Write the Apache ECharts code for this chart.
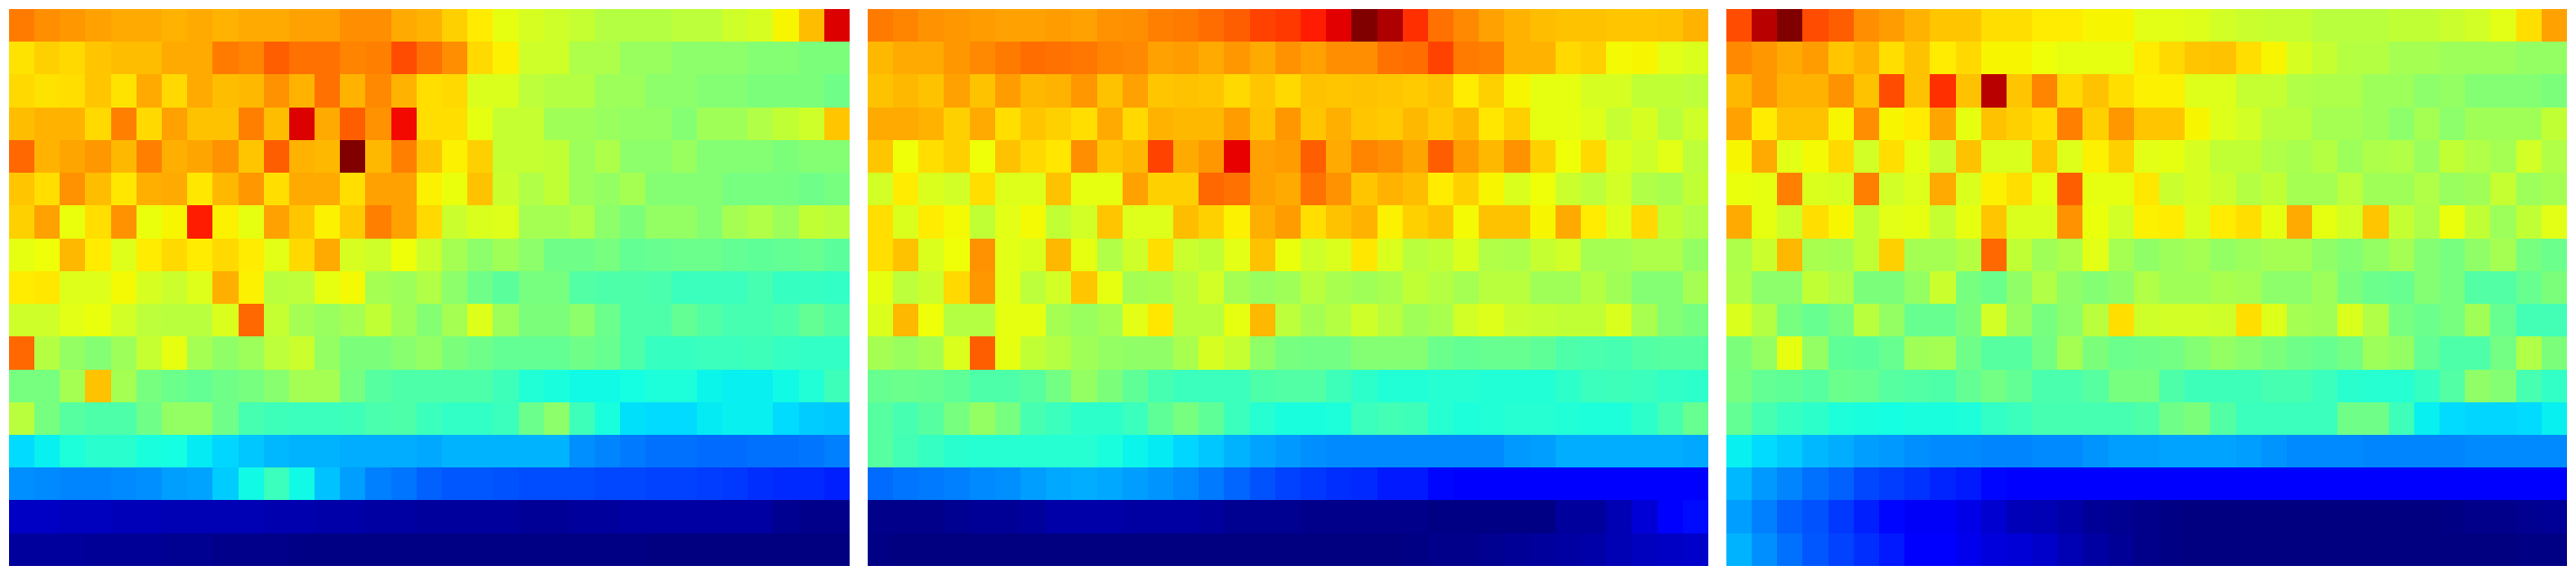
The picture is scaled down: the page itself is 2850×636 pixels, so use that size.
<!DOCTYPE html>
<html><head><meta charset="utf-8">
<style>html,body{margin:0;padding:0;background:#fff}#c{width:2850px;height:636px}</style>
<script src="https://cdn.jsdelivr.net/npm/echarts@6/dist/echarts.min.js"></script>
</head><body><div id="c"></div>
<script>
const columns = Array.from({length:33},(_,i)=>i);
const rows = Array.from({length:17},(_,i)=>i);
const panel1 = [
[78,76,75,74,73,73,72,73,72,73,73,74,74,76,76,73,72,69,66,63,61,60,59,57,57,57,58,58,60,61,65,71,92],
[67,69,68,70,71,71,73,73,78,77,81,79,79,77,77.5,83,79,76,68,65.5,60,60,56,56,53.5,53.5,52,52,52,51,51,50,50],
[68,67,67.5,70,67,73,68,73,71,71.5,75.5,72,79,72,76.5,72,67.5,68,61.5,61.5,58,57,57,54,54,52,52,51,51,50,50,50,48.5],
[71,72,72,68,77.5,68,74,70.5,70.5,77.5,71,92,73,81,75.5,90,67.5,67.5,63,59,59,54.5,54.5,53.5,53,53,51,54.5,54.5,56.5,58.5,60,70],
[80,72,73.5,75,71.5,77.5,72.5,73.5,75.5,70,81,72,71.5,100,71.5,77.5,70,65.5,69,59,59,58.5,54,56,52,52,53.5,51,51,51,50,51,51],
[70,67.5,75.5,71,66.5,72.5,73,66.5,71.5,75,67.5,73,73,67.5,74,74,65.5,63.5,70.5,59.5,56.5,58.5,54,53,55,51,51,51,49.5,49.5,49.5,48.5,49.5],
[69,74,63.5,67.5,75.5,63.5,65,88,65.5,63,74,70,65.5,69.5,77.5,74,68,59.5,61.5,62,55,55,56.5,52,50,53,53,51,55,56.5,54,58.5,57.5],
[63,64,71.5,66,62,66,68,66,68,66,62.5,68,73,61,60,64,59.5,55,52,54.5,52,48.5,48.5,49.5,47,47.5,48,48,47,46.5,47,47.5,46],
[66,66.5,62,62,64.5,61,59.5,62,72.5,65.5,57.5,58,63,64.5,55,54,56.5,52,48.5,46,49.5,49.5,45,44.5,44.5,44,42,42,42,43.5,41.5,41.5,41],
[60,60,62.5,63.5,60.5,58,57.5,57.5,61.5,80,59,55,53.5,55,58.5,54.5,51,55,62,54,50,50,52,48,44.5,44.5,47,45,43.5,43.5,44.5,47,45],
[80,57,53,51,54,59,63,55,52.5,54,58,59.5,53,50,50,51.5,53,50,48.5,47,47,47,48.5,47.5,44.5,41.5,41.5,42,42,42.5,41.5,41,41],
[49.5,49.5,55,70.5,55,49.5,48,47,48.5,49.5,51.5,55,55,49.5,45.5,44.5,44.5,44.5,44.5,42.5,39,38,37,37,37.5,38.5,38.5,36.5,36,36,37,39,42.5],
[57.5,49.5,45.5,44.5,44.5,48.5,53,53,48.5,43.5,42.5,42,42,42.5,44,44.5,42,41,41,42,48,52,42.5,38,34.5,34,34,35.5,36,36,34,32.5,32],
[34,36,38.5,40,40,38,37.5,35.5,33.5,32,30.5,30,30,29.5,29.5,29.5,29,30,30,30,30,30,26.5,25.5,24.5,23.5,23.5,23,23,23.5,23.5,24,25],
[26.5,26,25.5,25.5,26,26.5,28,28.5,32.5,37,42,37,31.5,28,25,24,22,21,21,20.5,20,20,20,19.5,19.5,19,19,18.5,18,17,16.5,16.5,15.5],
[6,6,5.5,5.5,5,5,4.5,4.5,4.5,4.5,4,4,3.5,3.5,3,3,2.5,2.5,2.5,2.5,2,2,2.5,2.5,3,3,3,3,3,3,1.5,1,1],
[2.5,2.5,2.5,2,2,2,1.5,1.5,1,1,1,0.5,0.5,0.5,0.5,0.5,0.5,0.5,0.5,0.5,0.5,0.5,0.5,0.5,0.5,0,0,0,0,0,0,0,0]
];
const panel2 = [
[78,77,75.5,75,74.5,74,74,74.5,74,75.5,76,77.5,78,79.5,81,84,85,88,91.5,100,96,86,79,76.5,74,72,71,70.5,70.5,70,70,70.5,72],
[71.5,73,73,75,76.5,78,79.5,79,78.5,77,76.5,74,74.5,73,75,73,75.5,74,76,76,79,79.5,84,78,77.5,72,72,68,69,64.5,65,62.5,61.5],
[70.5,71.5,70.5,74,70.5,74.5,71.5,72,75,70.5,74,70,70.5,70,68,70,68,70.5,70,70.5,70,69.5,70.5,66,69,65,63,63,61,61,58.5,58.5,58],
[73,73,72,69,73,67.5,70,69,67.5,73,68,72,71.5,71.5,74.5,70.5,75,70,72.5,70,69.5,71.5,69.5,71.5,66.5,69,63,63,62,59,61,57.5,60],
[70,64,67.5,69,64,70.5,68,66.5,76,70,71.5,84,73,75,91,74,74.5,81,73,77,76,73.5,81,74.5,71.5,75.5,69,64,68,61.5,60,62.5,58],
[60.5,66,61.5,60.5,67.5,62,62,70.5,63,63,74,69,69,80,79,74,73,79,75.5,70,72,71,66,69,65,61.5,64,59.5,58,60.5,56.5,55.5,58.5],
[67.5,61.5,66,64.5,58.5,62.5,64.5,58.5,60.5,70,62,62,71,69,65.5,72.5,74.5,67.5,70.5,72,65.5,69,70.5,64.5,70.5,70.5,65,73,66,62,68,58.5,56.5],
[67.5,70.5,61.5,64,75.5,62.5,61.5,71.5,63,56.5,60,67.5,59.5,58.5,62.5,70.5,63.5,60,61.5,66.5,61.5,57.5,58.5,61.5,56.5,56,59,60.5,55,55,56,56,53],
[63,58,59.5,68,75,62.5,58,60.5,70,63,55,55.5,57.5,60.5,55,53.5,54.5,57.5,55.5,54.5,55.5,58.5,57,55,57.5,57.5,54.5,54.5,57,54.5,51,51,55],
[61.5,71.5,64,57,57,63,63,55,53.5,55,62.5,66.5,57.5,57.5,63,71.5,58,55,57,60,57.5,54.5,55.5,60.5,62,59.5,59,58.5,58.5,61.5,55.5,51,49.5],
[55,53.5,55,61.5,81,63,58.5,57,54.5,53,52.5,52.5,55.5,61,59,52.5,49.5,49,49,51,51,51,48,47,47.5,47.5,46.5,44.5,44,43.5,45,45.5,45.5],
[47.5,48,47.5,46.5,44.5,44.5,45.5,49,53,50,46.5,43.5,42,42,42,44.5,45,45,42.5,40.5,39,39,39.5,39.5,39,39,39,40.5,42,42.5,42,41,40.5],
[45.5,43.5,45.5,49.5,53,49.5,43.5,42,40.5,40.5,42,46.5,49.5,46.5,42,39.5,38,38,38.5,42,43,42.5,39.5,38.5,39,39.5,39.5,39,38.5,38.5,40.5,43.5,47.5],
[45.5,43,41.5,40,39.5,39.5,39.5,39.5,39.5,38,36.5,35.5,33.5,32,30,28.5,27.5,26.5,26,26,26,26,26,26,26,27.5,28,29.5,29.5,29.5,29.5,29.5,29],
[23,24,24.5,25,26,26.5,28,29,29.5,29,28,27,26,24.5,22.5,20.5,19,18,17,16.5,15,15,13,12,12,12,12,12,12,12,12,12,12],
[1,1,1,1.5,2,2,2.5,3.5,3.5,3.5,3,3,3,2.5,1.5,1.5,1.5,1,1,1,1,1,0.5,0.5,0.5,0.5,0.5,2.5,2.5,4.5,7.5,11.5,13.5],
[0.5,0,0,0,0,0,0,0,0,0,0,0,0,0,0,0,0,0,0,0,0,0.5,1,1,1.5,2,2.5,3,3.5,4.5,5.5,6,6.5]
];
const panel3 = [
[83,95,100,83,81,76,74.5,72,70,70,67.5,67.5,66,66,65,65,62.5,62.5,62,60.5,59.5,59,59,57.5,57.5,57.5,58.5,58.5,59.5,60.5,62.5,67.5,74],
[76.5,75,73,74.5,70,72,67.5,70.5,66,68,65,65,64,63,63,63,66,68,70,70.5,67.5,65,61,59,57,57,55,55,54,54,54,53,53],
[71.5,75,72,72,75.5,70.5,83,70.5,86,70.5,95,70,77,68,70.5,67.5,65.5,65.5,62,62,59,59,56.5,56,56,54,54,52,53,51,51,51,50],
[74,66,70.5,70.5,65,76,65,66,73.5,63,70.5,69,67.5,77.5,69,75,70,70,65,62,60.5,57.5,57.5,55,55,54,52,55,52,54.5,54.5,54.5,58.5],
[65,73,62.5,64.5,68,60.5,67.5,63,59.5,70.5,61.5,61.5,70,62,65.5,69,62.5,63,61,58.5,58.5,56.5,55.5,57,54,56,56.5,53.5,58.5,56.5,55,60.5,56.5],
[63.5,63,77.5,61.5,61,77.5,60.5,62,73,61.5,65.5,67.5,63,81,63,63,66.5,59.5,61,59.5,57,58.5,55,55,58,54.5,54.5,56.5,53.5,54.5,59,54,55],
[73,63,60,67.5,65,58.5,62.5,63,59,63,70,61.5,61.5,75.5,63.5,60.5,65.5,66,61.5,66,67.5,63,73,63,60.5,70,59,56,63.5,58.5,54,58.5,62.5],
[56,59.5,71.5,55.5,55,58.5,69,55,55,57,80,58.5,54.5,56,62.5,55,52.5,54,55,53,54,55,55,52.5,51,53,55,51,49.5,52.5,55,49.5,48],
[56.5,52,52,58.5,56.5,50,50,53,59.5,49.5,48,52.5,56.5,52.5,51,52.5,56.5,54.5,54.5,55.5,55,52,52,54,50,48,47.5,51,49.5,45,45,47.5,50],
[61.5,57,49.5,47.5,49.5,57.5,53,47.5,47.5,50,60.5,53.5,49.5,52,57.5,67.5,60,60.5,60.5,60,67.5,62,55,54.5,61.5,56.5,49.5,48,49.5,54.5,47.5,43,43],
[50,53,63,53,46.5,46,47.5,54.5,55,48.5,45.5,45.5,49,55,50,48,48.5,49,51,53,51.5,50,48.5,47.5,49,54,53,47,44.5,44.5,49,56.5,50],
[49.5,47,46.5,45.5,48,47.5,45.5,45,44.5,47,49,47,44,44,45.5,49.5,49.5,44.5,42.5,42.5,42.5,43.5,43.5,42,40,39.5,39.5,41.5,45,52.5,51,43.5,41],
[47,43.5,41.5,40.5,38.5,38,37.5,38,38,38.5,41,42,43.5,43.5,43.5,43.5,44.5,48.5,50,45,42,42,42,42,48.5,48.5,42.5,36,34,33.5,33.5,34,36],
[36,34,32.5,30.5,29.5,28,27.5,26.5,26,26,25.5,25.5,26,26,27,28,28,28.5,28.5,28.5,28,27,26,26,26,25.5,25.5,25.5,25.5,26,26,26,26],
[30.5,27.5,25.5,23.5,22,19.5,18.5,17.5,16,15,13,12,12,12,12,12,12,12,12,12,12,12,12,12,12,12,12,12,12,12,12,12,12],
[28,25,22,20.5,18,15.5,13,10.5,10.5,9,7,5,4.5,3.5,2,1.5,1,0.5,0,0,0,0,0,0,0,0,0,0,0.5,1,1,1.5,2],
[30,26.5,23.5,21,19,17,15,12,11.5,9.5,8,7.5,6.5,4.5,3,2,1,0.5,0,0,0,0,0,0,0,0,0,0,0,0,0,0.5,0.5]
];
const panels = [panel1, panel2, panel3];

// jet colour ramp, sampled at even steps for the visual map
function lerp(pts, t){
  for(let i=1;i<pts.length;i++){
    if(t<=pts[i][0]){const a=pts[i-1],b=pts[i];return a[1]+(b[1]-a[1])*(t-a[0])/(b[0]-a[0]);}
  }
  return pts[pts.length-1][1];
}
const R=[[0,0],[.35,0],[.66,1],[.89,1],[1,.5]];
const G=[[0,0],[.125,0],[.375,1],[.64,1],[.91,0],[1,0]];
const B=[[0,.5],[.11,1],[.34,1],[.65,0],[1,0]];
const ramp=[];
for(let i=0;i<=200;i++){const t=i/200;
  ramp.push('rgb('+[R,G,B].map(c=>Math.round(255*lerp(c,t))).join(',')+')');}

// cells are placed by the axis scales and snapped to whole pixels so no seams appear
function renderCell(params, api){
  const c = api.coord([api.value(0), api.value(1)]);
  const s = api.size([1,1]);
  const x0 = Math.round(c[0]-s[0]/2), x1 = Math.round(c[0]+s[0]/2);
  const y0 = Math.round(c[1]-s[1]/2), y1 = Math.round(c[1]+s[1]/2);
  return {type:'rect', shape:{x:x0,y:y0,width:x1-x0,height:y1-y0}, style:{fill:api.visual('color')}, silent:true};
}

const lefts=[9.9,959.9,1909.9];
const chart=echarts.init(document.getElementById('c'),null,{renderer:'canvas'});
chart.setOption({
  animation:false,
  backgroundColor:'#ffffff',
  tooltip:{show:false},
  visualMap:{show:false,type:'continuous',min:0,max:100,dimension:2,seriesIndex:[0,1,2],inRange:{color:ramp}},
  grid:lefts.map(l=>({left:l,top:9.95,width:930,height:616,show:false})),
  xAxis:lefts.map((l,i)=>({type:'category',gridIndex:i,data:columns,show:false,boundaryGap:true})),
  yAxis:lefts.map((l,i)=>({type:'category',gridIndex:i,data:rows,show:false,inverse:true,boundaryGap:true})),
  series:panels.map((p,i)=>({
    type:'custom',xAxisIndex:i,yAxisIndex:i,progressive:0,silent:true,clip:false,
    renderItem:renderCell,
    encode:{x:0,y:1},
    data:p.flatMap((row,y)=>row.map((v,x)=>[x,y,v]))
  }))
});
</script></body></html>
